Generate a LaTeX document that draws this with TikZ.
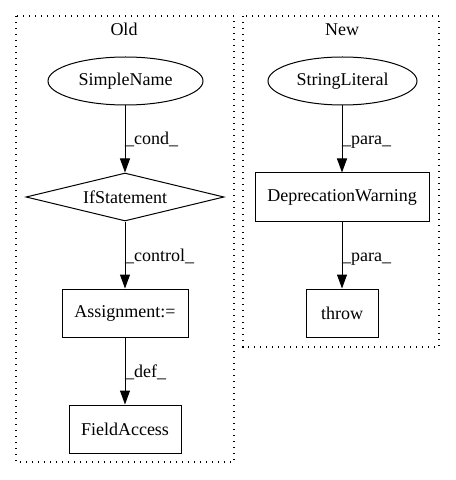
\documentclass[tikz,border=0pt]{standalone}
\usepackage{fontspec}
\setmainfont{Liberation Serif}
\usetikzlibrary{shapes.geometric,arrows.meta}
\tikzset{
  base/.style={draw=black, line width=1bp, inner sep=0pt, font=\fontsize{18bp}{21bp}\selectfont},
  ellnode/.style={base, ellipse, minimum height=48bp},
  boxnode/.style={base, rectangle, minimum height=48bp},
  dianode/.style={base, diamond, shape aspect=4.125, minimum width=198bp, minimum height=48bp},
  cluster/.style={draw=black, line width=1.2bp, dash pattern=on 1.3bp off 4.7bp},
  edge/.style={line width=1bp, -{Triangle[length=14bp,width=10bp]}},
  elabel/.style={inner sep=0pt, anchor=base west, font=\fontsize{18bp}{21bp}\selectfont},
  title/.style={inner sep=0pt, anchor=base, font=\fontsize{18bp}{21bp}\selectfont}
}
\begin{document}
\begin{tikzpicture}[x=1bp,y=-1bp]
\useasboundingbox (0,0) rectangle (456,480);
\fill[white] (0,0) rectangle (456,480);
% clusters
\draw[cluster] (16,16) rectangle (234,462);
\draw[cluster] (243,16) rectangle (439,347);
\node[title] (toldt) at (124,36) {Old};
\node[title] (tnew) at (342,36) {New};
% Old nodes
\node[ellnode, minimum width=155bp] (sn) at (125.5,81) {SimpleName};
\node[dianode] (ifs) at (125,197) {IfStatement};
\node[boxnode, minimum width=126bp] (asg) at (125,313) {Assignment:=};
\node[boxnode, minimum width=112bp] (fa) at (125,429) {FieldAccess};
% New nodes
\node[ellnode, minimum width=149bp] (sl) at (342.5,81) {StringLiteral};
\node[boxnode, minimum width=174bp] (dw) at (342,197) {DeprecationWarning};
\node[boxnode, minimum width=72bp] (thr) at (342,313) {throw};
% edges
\draw[edge] (sn.south -| ifs.north) -- (ifs.north);
\draw[edge] (ifs.south) -- (asg.north);
\draw[edge] (asg.south) -- (fa.north);
\draw[edge] (sl.south -| dw.north) -- (dw.north);
\draw[edge] (dw.south) -- (thr.north);
% edge labels
\node[elabel] (l1) at (125,145) {\_cond\_};
\node[elabel] (l2) at (125,261) {\_control\_};
\node[elabel] (l3) at (125,377) {\_def\_};
\node[elabel] (l4) at (342,145) {\_para\_};
\node[elabel] (l5) at (342,261) {\_para\_};
\end{tikzpicture}
\end{document}
